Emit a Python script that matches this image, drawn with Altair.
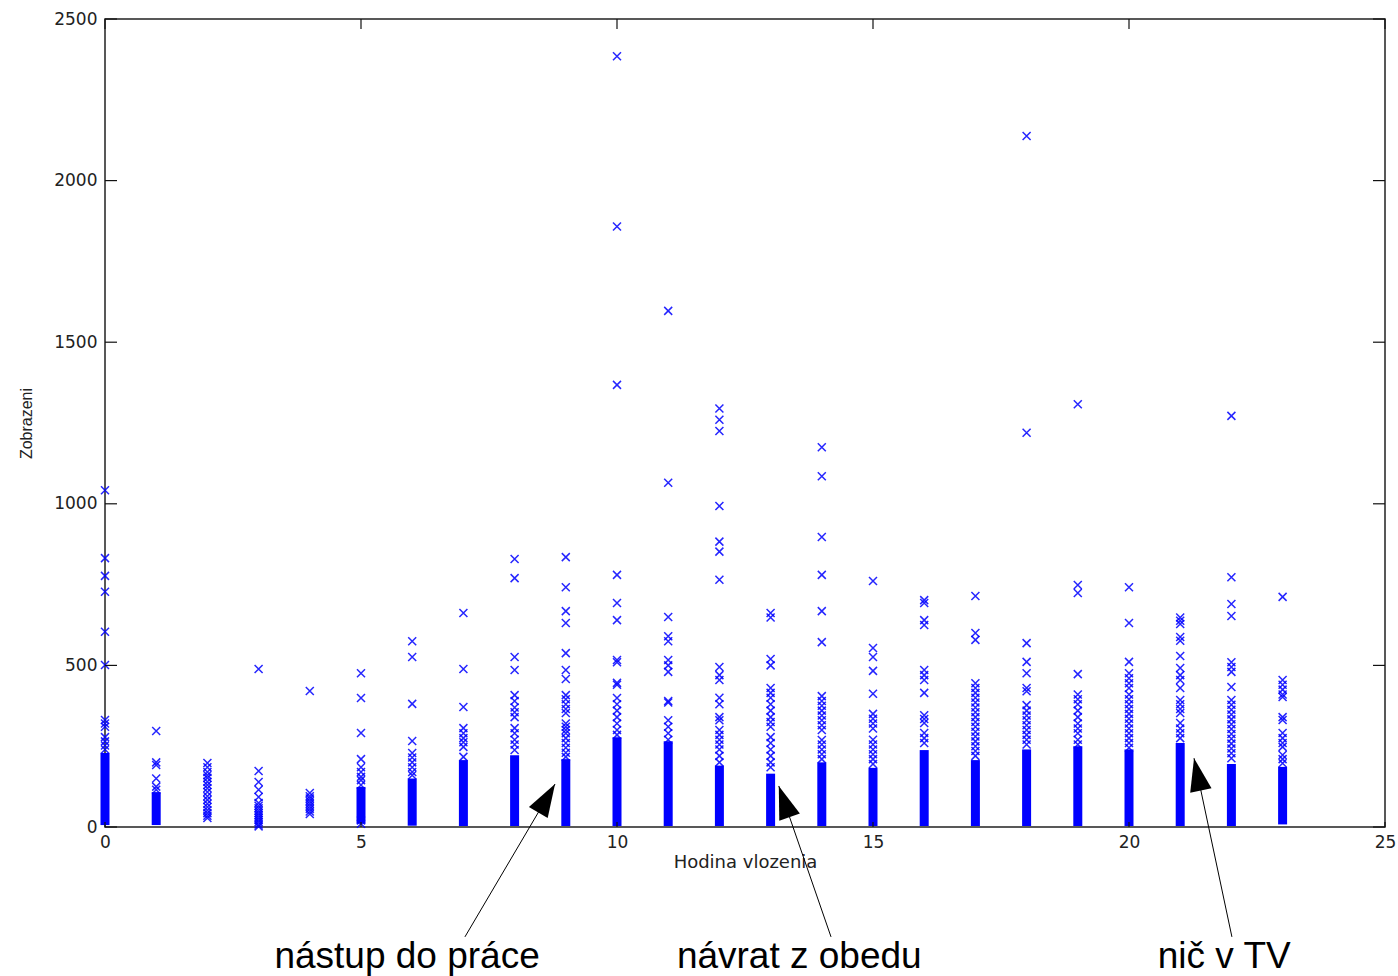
import math
import altair as alt
import pandas as pd

# ---------------- data ----------------
# hours that have a solid (densely packed) column of markers
dense_hours = [0, 1, 5, 6, 7, 8, 9, 10, 11, 12, 13, 14, 15, 16, 17, 18, 19, 20, 21, 22, 23]
dense_low = [6, 6, 10, 4, 3, 3, 3, 3, 3, 3, 3, 3, 3, 3, 3, 3, 3, 3, 3, 3, 8]
dense_high = [229, 108, 124, 150, 207, 222, 210, 278, 265, 190, 165, 200, 183, 238, 207, 240, 250, 240, 260, 195, 186]

# individually visible markers per hour
h0 = [1042, 832, 777, 728, 604, 501, 331, 320, 310, 278, 265, 252, 240]
h1 = [297, 200, 192, 150, 125, 115]
h2 = [198, 185, 170, 160, 152, 140, 130, 120, 108, 95, 84, 72, 62, 52, 43, 35, 28]
h3 = [489, 173, 139, 115, 93, 74, 66, 58, 50, 43, 36, 29, 22, 15, 8, 2]
h4 = [421, 105, 95, 88, 80, 72, 64, 56, 48, 40]
h5 = [476, 399, 291, 210, 185, 170, 155, 145, 130, 20, 10]
h6 = [575, 526, 381, 266, 229, 215, 200, 185, 170, 160]
h7 = [662, 489, 371, 306, 290, 275, 262, 248, 217]
h8 = [829, 770, 526, 486, 408, 390, 370, 355, 340, 306, 290, 270, 255, 238]
h9 = [835, 742, 668, 631, 538, 486, 458, 408, 395, 380, 365, 353, 320, 310, 300, 290, 275, 260, 245, 230, 217]
h10 = [2385, 1858, 1368, 780, 693, 640, 517, 510, 446, 440, 399, 380, 360, 340, 320, 300, 285]
h11 = [1597, 1065, 650, 590, 575, 517, 500, 480, 390, 385, 330, 310, 290, 270]
h12 = [1295, 1260, 1225, 993, 883, 852, 765, 495, 470, 455, 400, 380, 340, 330, 300, 285, 270, 255, 240, 220, 200]
h13 = [662, 648, 520, 500, 430, 415, 400, 380, 360, 340, 325, 310, 278, 260, 240, 220, 200, 185]
h14 = [1175, 1085, 897, 780, 668, 572, 405, 390, 375, 360, 345, 330, 315, 300, 269, 255, 240, 225, 210]
h15 = [761, 554, 526, 483, 412, 350, 335, 320, 305, 270, 255, 240, 225, 210, 195]
h16 = [702, 693, 640, 625, 486, 470, 455, 415, 346, 334, 322, 291, 275, 260]
h17 = [715, 600, 579, 445, 430, 415, 400, 385, 370, 355, 340, 325, 310, 295, 280, 265, 250, 235, 220]
h18 = [2138, 1220, 569, 511, 476, 430, 420, 377, 360, 345, 330, 315, 300, 285, 270, 255]
h19 = [1308, 749, 724, 473, 410, 395, 380, 360, 340, 320, 305, 290, 270, 255]
h20 = [742, 631, 511, 476, 460, 445, 430, 410, 395, 380, 365, 350, 335, 320, 305, 290, 275, 260, 245]
h21 = [648, 638, 628, 588, 576, 529, 492, 470, 455, 430, 393, 380, 365, 353, 322, 305, 290, 275]
h22 = [1272, 773, 690, 653, 510, 495, 480, 433, 393, 378, 363, 348, 333, 318, 303, 288, 273, 258, 243, 228, 213]
h23 = [712, 455, 440, 425, 410, 402, 340, 331, 291, 275, 260, 248, 223, 210, 197]

x_ticks = [0, 5, 10, 15, 20, 25]
y_ticks = [0, 500, 1000, 1500, 2000, 2500]

# annotations (in data units: hour, value)
ann_text = ["nástup do práce", "návrat z obedu", "nič v TV"]
ann_text_x = [5.9, 13.56, 21.86]
ann_text_y = [-436, -436, -436]
arrow_start_x = [7.03, 14.18, 22.01]
arrow_start_y = [-340, -340, -340]
arrow_tip_x = [8.79, 13.16, 21.27]
arrow_tip_y = [133, 127, 213]

# ---------------- layout ----------------
W, H = 1280, 808
X_MAX, Y_MAX = 25, 2500

per_hour = [h0, h1, h2, h3, h4, h5, h6, h7, h8, h9, h10, h11, h12, h13, h14, h15,
            h16, h17, h18, h19, h20, h21, h22, h23]
pts = pd.DataFrame([(h, v) for h, vals in enumerate(per_hour) for v in vals],
                   columns=["hour", "views"])
dense = pd.DataFrame({"hour": dense_hours, "low": dense_low, "high": dense_high})

angles = []
for sx, sy, tx, ty in zip(arrow_start_x, arrow_start_y, arrow_tip_x, arrow_tip_y):
    dx = (tx - sx) * W / X_MAX
    dy_up = (ty - sy) * H / Y_MAX
    angles.append(math.degrees(math.atan2(dx, dy_up)) % 360)
arrows = pd.DataFrame({"sx": arrow_start_x, "sy": arrow_start_y,
                       "tx": arrow_tip_x, "ty": arrow_tip_y, "angle": angles})
texts = pd.DataFrame({"label": ann_text, "x": ann_text_x, "y": ann_text_y})

xs = alt.Scale(domain=[0, X_MAX], nice=False, zero=False, padding=0)
ys = alt.Scale(domain=[0, Y_MAX], nice=False, zero=False, padding=0)

AXFONT = "DejaVu Sans"
x_axis = alt.Axis(values=x_ticks, format="d", grid=False, domain=False, tickSize=0,
                  labelFont=AXFONT, labelFontSize=17, labelColor="#222", labelPadding=7,
                  title="Hodina vlozenia", titleFont=AXFONT, titleFontSize=18,
                  titleFontWeight="normal", titleColor="#222", titlePadding=3,
                  labelFlush=False)
y_axis = alt.Axis(values=y_ticks, format="d", grid=False, domain=False, tickSize=0,
                  labelFont=AXFONT, labelFontSize=17, labelColor="#222", labelPadding=8,
                  title="Zobrazeni", titleFont="Liberation Sans", titleFontSize=16,
                  titleFontWeight="normal", titleColor="#222", titlePadding=19,
                  labelFlush=False)

bars = alt.Chart(dense).mark_bar(size=9, color="#0000ff").encode(
    x=alt.X("hour:Q", scale=xs, axis=x_axis),
    y=alt.Y("low:Q", scale=ys, axis=y_axis),
    y2="high:Q",
)

XSHAPE = "M-1,-1L1,1M-1,1L1,-1"
points = alt.Chart(pts).mark_point(shape=XSHAPE, size=64, filled=False,
                                   stroke="#0000ff", strokeWidth=1.5, opacity=0.85).encode(
    x=alt.X("hour:Q", scale=xs),
    y=alt.Y("views:Q", scale=ys),
)

xt = pd.DataFrame({"t": x_ticks})
yt = pd.DataFrame({"t": y_ticks})
tick_style = dict(color="#111", strokeWidth=1.2)
top_ticks = alt.Chart(xt).mark_rule(**tick_style).encode(
    x=alt.X("t:Q", scale=xs), y=alt.value(0), y2=alt.value(10))
bot_ticks = alt.Chart(xt).mark_rule(**tick_style).encode(
    x=alt.X("t:Q", scale=xs), y=alt.value(H), y2=alt.value(H - 5))
left_ticks = alt.Chart(yt).mark_rule(**tick_style).encode(
    y=alt.Y("t:Q", scale=ys), x=alt.value(0), x2=alt.value(12))
right_ticks = alt.Chart(yt).mark_rule(**tick_style).encode(
    y=alt.Y("t:Q", scale=ys), x=alt.value(W), x2=alt.value(W - 12))

arrow_lines = alt.Chart(arrows).mark_rule(color="black", strokeWidth=1, clip=False).encode(
    x=alt.X("sx:Q", scale=xs), y=alt.Y("sy:Q", scale=ys),
    x2="tx:Q", y2="ty:Q")
HEAD = "M0,0L-0.66,2L0.66,2Z"
arrow_heads = alt.Chart(arrows).mark_point(shape=HEAD, size=1089, filled=True,
                                           color="black", opacity=1, clip=False).encode(
    x=alt.X("tx:Q", scale=xs), y=alt.Y("ty:Q", scale=ys),
    angle=alt.Angle("angle:Q", scale=None))

labels = alt.Chart(texts).mark_text(font="Liberation Sans", fontSize=37, color="black",
                                    align="center", baseline="alphabetic", clip=False).encode(
    x=alt.X("x:Q", scale=xs), y=alt.Y("y:Q", scale=ys), text="label:N")

chart = alt.layer(bars, points, top_ticks, bot_ticks, left_ticks, right_ticks,
                  arrow_lines, arrow_heads, labels).properties(
    width=W, height=H,
    autosize=alt.AutoSizeParams(type="none"),
    padding={"left": 105, "top": 19, "right": 13, "bottom": 149},
    background="white",
).configure_view(stroke="#222", strokeWidth=1.5)

chart.save("out.html", embed_options={"renderer": "svg", "actions": False})
